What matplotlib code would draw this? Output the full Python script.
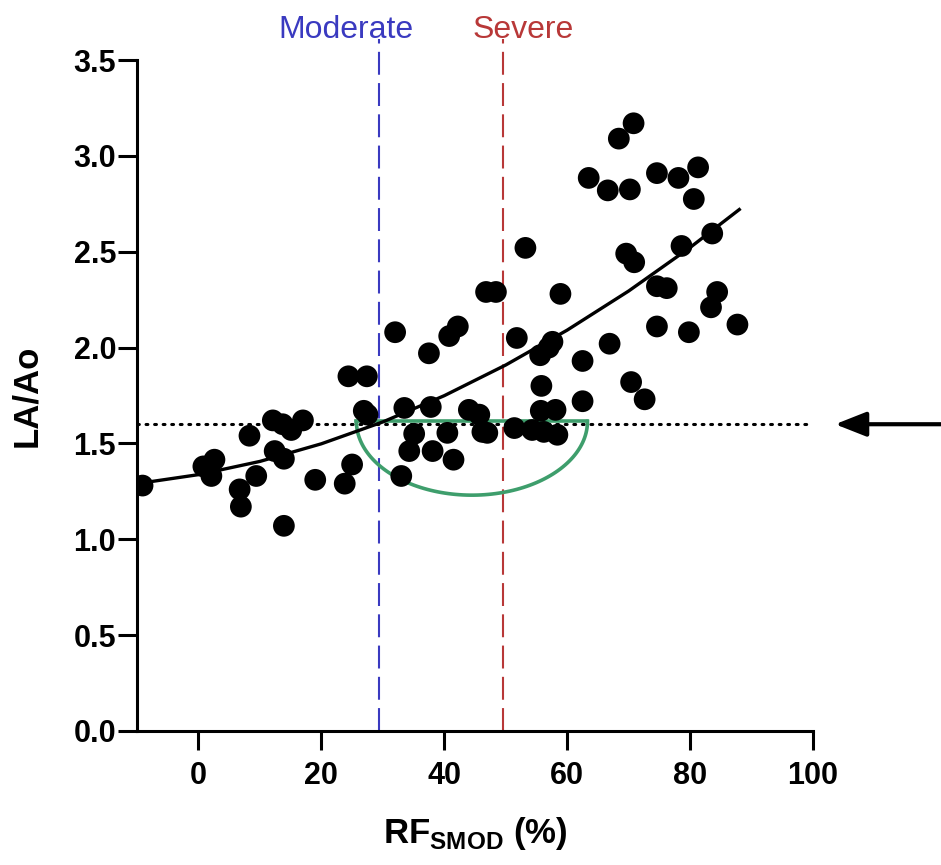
import matplotlib
matplotlib.use("Agg")
import matplotlib.pyplot as plt
import numpy as np

plt.rcParams['font.family'] = ['Liberation Sans', 'DejaVu Sans']
plt.rcParams['mathtext.fontset'] = 'custom'
plt.rcParams['mathtext.bf'] = 'Liberation Sans:bold'
plt.rcParams['mathtext.rm'] = 'Liberation Sans:bold'

# pontos (RF_SMOD %, LA/Ao)
rf = [-9.1, 0.8, 2.6, 2.1, 6.7, 6.9, 8.3, 9.4, 12.1, 13.7, 15.1, 17.0, 12.4, 13.9,
      13.9, 19.0, 23.8, 25.0, 24.4, 27.4, 26.9, 27.5, 32.0, 37.5, 40.8, 33.5, 37.8,
      35.1, 34.3, 38.1, 33.0, 40.5, 41.5,
      70.8, 68.4, 63.5, 66.6, 70.2, 74.6, 78.1, 81.3, 80.6, 83.6, 78.6, 69.6, 70.9,
      53.2, 58.9, 46.8, 48.4, 42.2, 74.6, 76.2, 84.4, 83.4, 74.6, 79.8, 87.7, 51.8,
      57.6, 55.6, 57.0, 66.9, 62.5, 70.4, 72.6, 55.8, 62.5, 55.7, 58.1, 44.0, 45.7,
      46.2, 47.0, 51.4, 54.3, 56.2, 58.4]
la_ao = [1.28, 1.38, 1.415, 1.33, 1.26, 1.17, 1.54, 1.33, 1.62, 1.60, 1.57, 1.62, 1.46, 1.42,
         1.07, 1.31, 1.29, 1.39, 1.85, 1.85, 1.67, 1.65, 2.08, 1.97, 2.06, 1.685, 1.69,
         1.55, 1.46, 1.46, 1.33, 1.555, 1.415,
         3.17, 3.09, 2.885, 2.82, 2.825, 2.91, 2.885, 2.94, 2.775, 2.595, 2.53, 2.49, 2.445,
         2.52, 2.28, 2.29, 2.29, 2.11, 2.32, 2.31, 2.29, 2.21, 2.11, 2.08, 2.12, 2.05,
         2.03, 1.96, 2.00, 2.02, 1.93, 1.82, 1.73, 1.80, 1.72, 1.67, 1.675, 1.675, 1.65,
         1.56, 1.555, 1.58, 1.57, 1.56, 1.545]

# curva de ajuste
fit_x = [-10, 0, 10, 20, 30, 40, 50, 60, 70, 80, 88]
fit_y = [1.29, 1.337, 1.406, 1.498, 1.612, 1.749, 1.909, 2.091, 2.295, 2.522, 2.72]

moderado = 29.3
severo = 49.6
limiar = 1.6

# região verde (semi-elipse)
semi_x = [25.7, 63.3]
semi_topo = 1.615
semi_fundo = 1.23

fig = plt.figure(figsize=(9.41, 8.65), dpi=100)
ax = fig.add_axes([0.1456, 0.155, 0.7184, 0.7756])

# linhas verticais
ax.plot([moderado, moderado], [0, 3.61], color='#3a3ac0', lw=1.5,
        dashes=(11, 4), clip_on=False, zorder=1)
ax.plot([severo, severo], [0, 3.61], color='#b83838', lw=1.5,
        dashes=(11, 4), clip_on=False, zorder=1)
ax.text(24.0, 3.655, 'Moderate', color='#3a3ac0', fontsize=23,
        ha='center', va='center')
ax.text(52.9, 3.655, 'Severe', color='#b83838', fontsize=23,
        ha='center', va='center')

# linha pontilhada
ax.plot([-10, 99], [limiar, limiar], color='black', lw=2.2,
        linestyle=(0, (0.6, 2.2)), dash_capstyle='round', zorder=2)

# semi-elipse verde
cx = (semi_x[0] + semi_x[1]) / 2
rx = (semi_x[1] - semi_x[0]) / 2
ry = semi_topo - semi_fundo
t = np.linspace(np.pi, 2 * np.pi, 100)
ax.plot(cx + rx * np.cos(t), semi_topo + ry * np.sin(t), color='#3e9e6c', lw=2.6, zorder=3)
ax.plot(semi_x, [semi_topo, semi_topo], color='#3e9e6c', lw=2.6, zorder=3)

# pontos e ajuste
ax.scatter(rf, la_ao, s=245, color='black', edgecolors='none', zorder=4)
ax.plot(fit_x, fit_y, color='black', lw=2.4, zorder=5)

# seta
ax.annotate('', xy=(103.6, limiar), xytext=(122, limiar),
            xycoords='data', textcoords='data', annotation_clip=False,
            arrowprops=dict(arrowstyle='-|>,head_length=1.9,head_width=0.75',
                            color='black', lw=3, shrinkA=0, shrinkB=0))

ax.set_xlim(-10, 100)
ax.set_ylim(0, 3.5)
ax.set_xticks([0, 20, 40, 60, 80, 100])
ax.set_yticks(np.arange(0, 3.51, 0.5))
ax.set_yticklabels(['%.1f' % v for v in np.arange(0, 3.51, 0.5)])
for s in ['top', 'right']:
    ax.spines[s].set_visible(False)
for s in ['left', 'bottom']:
    ax.spines[s].set_linewidth(2.2)
ax.tick_params(axis='both', width=2.2, length=14, labelsize=22)
ax.tick_params(axis='y', pad=1)
ax.tick_params(axis='x', pad=8)
for lab in ax.get_xticklabels() + ax.get_yticklabels():
    lab.set_fontweight('bold')

ax.set_xlabel(r'RF$_{\mathbf{SMOD}}$ (%)', fontsize=25, fontweight='bold', labelpad=17)
ax.set_ylabel('LA/Ao', fontsize=25, fontweight='bold', labelpad=22)

fig.savefig('out.png', dpi=100)
